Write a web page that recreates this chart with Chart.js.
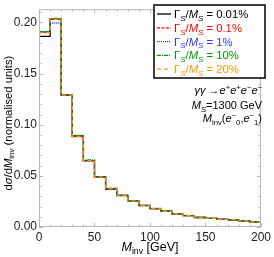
<!DOCTYPE html>
<html>
<head>
<meta charset="utf-8">
<script src="https://cdn.jsdelivr.net/npm/chart.js@4.4.1/dist/chart.umd.min.js"></script>
<style>
  html, body { margin: 0; padding: 0; background: #fff; }
  #wrap { width: 274px; height: 257px; position: relative; }
</style>
</head>
<body>
<div id="wrap"><canvas id="chart" width="274" height="257"></canvas></div>
<script>
// lower bin edges (GeV), last edge closes the histogram
const binEdges = [0, 10, 20, 30, 40, 50, 60, 70, 80, 90, 100, 110, 120, 130, 140, 150, 160, 170, 180, 190, 200];

// d sigma / dM_inv per bin
const width001 = [0.1865, 0.2030, 0.1290, 0.0890, 0.0650, 0.0490, 0.0370, 0.0310, 0.0255, 0.0210, 0.0180, 0.0155, 0.0128, 0.0112, 0.0093, 0.0084, 0.0075, 0.0071, 0.0060, 0.0050];
const width01  = [0.1905, 0.2030, 0.1295, 0.0885, 0.0650, 0.0485, 0.0378, 0.0308, 0.0258, 0.0212, 0.0180, 0.0156, 0.0130, 0.0112, 0.0095, 0.0085, 0.0076, 0.0073, 0.0061, 0.0051];
const width1   = [0.1905, 0.1995, 0.1290, 0.0890, 0.0645, 0.0490, 0.0376, 0.0310, 0.0255, 0.0213, 0.0181, 0.0155, 0.0129, 0.0113, 0.0094, 0.0084, 0.0076, 0.0073, 0.0060, 0.0050];
const width10  = [0.1910, 0.2040, 0.1295, 0.0895, 0.0655, 0.0490, 0.0378, 0.0308, 0.0256, 0.0211, 0.0180, 0.0156, 0.0129, 0.0111, 0.0093, 0.0084, 0.0074, 0.0071, 0.0059, 0.0049];
const width20  = [0.1900, 0.2030, 0.1290, 0.0885, 0.0650, 0.0488, 0.0376, 0.0306, 0.0255, 0.0212, 0.0179, 0.0154, 0.0128, 0.0112, 0.0094, 0.0085, 0.0075, 0.0072, 0.0060, 0.0050];

const seriesValues = [width001, width01, width1, width10, width20];
const seriesLabels = ["0.01%", "0.1%", "1%", "10%", "20%"];
const seriesColors = ["#000000", "#ff0000", "#3333ff", "#009900", "#ff9900"];
const seriesDash = [[], [3, 1.5], [1, 1], [4, 1, 1, 1], [4, 3]];

const xTicks = [0, 50, 100, 150, 200];
const yTicks = [0, 0.05, 0.10, 0.15, 0.20];

const FONT = "'Liberation Sans', Arial, sans-serif";

function histPoints(values) {
    // stepped 'before': value of point i holds from edge i to edge i+1
    const pts = values.map((v, i) => ({ x: binEdges[i], y: v }));
    pts.push({ x: binEdges[binEdges.length - 1], y: values[values.length - 1] });
    return pts;
}

// text pieces: {t, it, sub, sup}
function richWidth(ctx, parts, size) {
    let w = 0;
    parts.forEach(p => {
        const s = (p.sub || p.sup) ? size * 0.7 : size;
        ctx.font = (p.it ? "italic " : "") + s + "px " + FONT;
        w += ctx.measureText(p.t).width;
    });
    return w;
}
function richText(ctx, parts, x, y, size, color) {
    ctx.fillStyle = color;
    ctx.textBaseline = "alphabetic";
    ctx.textAlign = "left";
    parts.forEach(p => {
        const s = (p.sub || p.sup) ? size * 0.7 : size;
        ctx.font = (p.it ? "italic " : "") + s + "px " + FONT;
        let dy = 0;
        if (p.sub) dy = size * 0.25;
        if (p.sup) dy = -size * 0.4;
        ctx.fillText(p.t, x, y + dy);
        x += ctx.measureText(p.t).width;
    });
}

const framePlugin = {
    id: "frame",
    afterDraw(chart) {
        const ctx = chart.ctx;
        const a = chart.chartArea;
        const xs = chart.scales.x, ys = chart.scales.y;
        ctx.save();
        // frame
        ctx.strokeStyle = "#b8b8b8";
        ctx.lineWidth = 1;
        ctx.strokeRect(a.left + 0.5, a.top + 0.5, a.right - a.left - 1, a.bottom - a.top - 1);
        // ticks inside the frame on all four sides
        ctx.beginPath();
        for (let v = 0; v <= 200; v += 10) {
            const px = Math.round(xs.getPixelForValue(v)) + 0.5;
            const len = v % 50 === 0 ? 4 : 2.5;
            ctx.moveTo(px, a.bottom); ctx.lineTo(px, a.bottom - len);
            ctx.moveTo(px, a.top); ctx.lineTo(px, a.top + len);
        }
        for (let k = 0; k <= 21; k++) {
            const py = Math.round(ys.getPixelForValue(k / 100)) + 0.5;
            const len = k % 5 === 0 ? 4 : 2.5;
            ctx.moveTo(a.left, py); ctx.lineTo(a.left + len, py);
            ctx.moveTo(a.right, py); ctx.lineTo(a.right - len, py);
        }
        ctx.stroke();

        // legend
        const lx = 154, ly = 5, lw = 111, lh = 73;
        ctx.fillStyle = "#fff";
        ctx.fillRect(lx, ly, lw, lh);
        ctx.strokeStyle = "#000";
        ctx.lineWidth = 1.5;
        ctx.strokeRect(lx, ly, lw, lh);
        seriesLabels.forEach((lab, i) => {
            const cy = 14 + i * 13.8;
            ctx.strokeStyle = seriesColors[i];
            ctx.lineWidth = 1.3;
            ctx.setLineDash(seriesDash[i]);
            ctx.beginPath();
            ctx.moveTo(157, cy); ctx.lineTo(171, cy);
            ctx.stroke();
            ctx.setLineDash([]);
            richText(ctx, [
                { t: "Γ" }, { t: "S", it: true, sub: true }, { t: "/" },
                { t: "M", it: true }, { t: "S", it: true, sub: true }, { t: " = " + lab }
            ], 174, cy + 4, 11.3, seriesColors[i]);
        });

        // process text, right aligned
        const rx = 262;
        const lines = [
            { y: 94, parts: [{ t: "γγ", it: true }, { t: " →" }, { t: "e", it: true }, { t: "+", sup: true },
                             { t: "e", it: true }, { t: "+", sup: true }, { t: "e", it: true }, { t: "−", sup: true },
                             { t: "e", it: true }, { t: "−", sup: true }] },
            { y: 109, parts: [{ t: "M", it: true }, { t: "S", it: true, sub: true }, { t: "=1300 GeV" }] },
            { y: 122, parts: [{ t: "M", it: true }, { t: "inv", sub: true }, { t: "(" }, { t: "e", it: true },
                              { t: "−", sup: true }, { t: "0", sub: true }, { t: "," }, { t: "e", it: true },
                              { t: "−", sup: true }, { t: "1", sub: true }, { t: ")" }] }
        ];
        lines.forEach(l => {
            const w = richWidth(ctx, l.parts, 11);
            richText(ctx, l.parts, rx - w, l.y, 11, "#000");
        });

        // x title
        const xt = [{ t: "M", it: true }, { t: "inv", sub: true }, { t: " [GeV]" }];
        const xw = richWidth(ctx, xt, 12.5);
        richText(ctx, xt, (a.left + a.right) / 2 - xw / 2, 251, 12.5, "#000");

        // y title, rotated
        const yt = [{ t: "d" }, { t: "σ", it: true }, { t: "/d" }, { t: "M", it: true },
                    { t: "inv", sub: true }, { t: " (normalised units)" }];
        const yw = richWidth(ctx, yt, 11.3);
        ctx.translate(11.5, (a.top + a.bottom) / 2 + 5);
        ctx.rotate(-Math.PI / 2);
        richText(ctx, yt, -yw / 2, 0, 11.3, "#000");
        ctx.restore();
    }
};

const datasets = seriesValues.map((vals, i) => ({
    label: seriesLabels[i],
    data: histPoints(vals),
    borderColor: seriesColors[i],
    borderDash: seriesDash[i],
    borderWidth: 1.3,
    pointRadius: 0,
    stepped: "before",
    fill: false,
    order: 4 - i
}));

new Chart(document.getElementById("chart"), {
    type: "line",
    data: { datasets: datasets },
    options: {
        responsive: false,
        animation: false,
        layout: { padding: { top: 1, right: 9, left: 0, bottom: 0 } },
        plugins: { legend: { display: false }, tooltip: { enabled: false } },
        scales: {
            x: {
                type: "linear",
                min: 0, max: 200,
                grid: { display: false, drawTicks: false },
                border: { display: false },
                afterBuildTicks: s => { s.ticks = xTicks.map(v => ({ value: v })); },
                afterFit: s => { s.height = 30; },
                ticks: { color: "#222", font: { family: FONT, size: 12 }, padding: 3, maxRotation: 0 }
            },
            y: {
                min: 0, max: 0.213,
                grid: { display: false, drawTicks: false },
                border: { display: false },
                afterBuildTicks: s => { s.ticks = yTicks.map(v => ({ value: v })); },
                afterFit: s => { s.width = 39; },
                ticks: { color: "#222", font: { family: FONT, size: 12 }, padding: 2,
                         callback: v => v.toFixed(2) }
            }
        }
    },
    plugins: [framePlugin]
});
</script>
</body>
</html>
